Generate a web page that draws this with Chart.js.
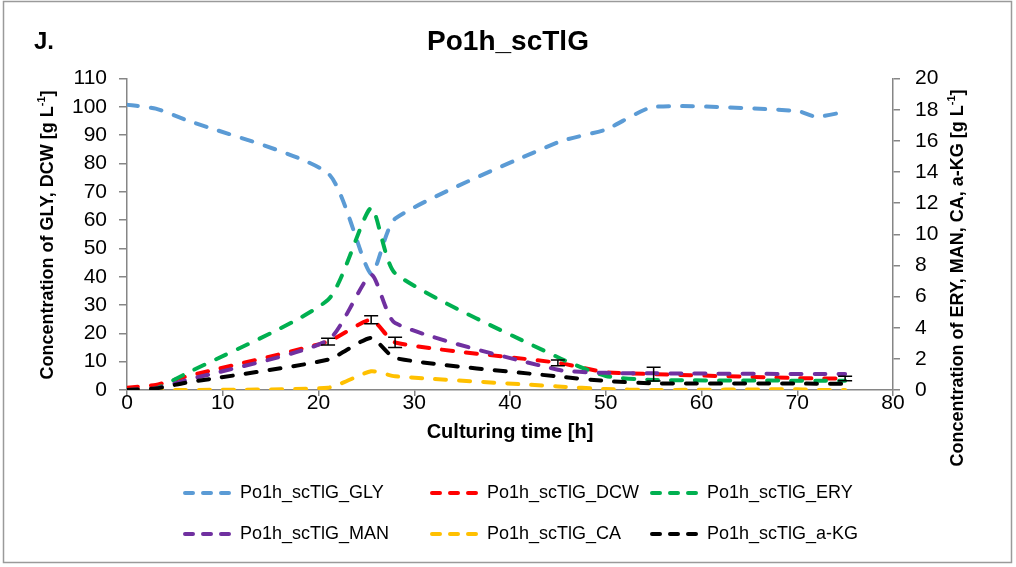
<!DOCTYPE html>
<html>
<head>
<meta charset="utf-8">
<title>Po1h_scTlG</title>
<script src="https://cdn.jsdelivr.net/npm/chart.js@4.4.1/dist/chart.umd.min.js"></script>
<style>
  body { margin: 0; background: #fff; }
  #wrap { position: relative; width: 1016px; height: 567px; }
</style>
</head>
<body>
<div id="wrap"><canvas id="chart-po1h"></canvas></div>
<script>
// sampling times [h]
var hours  = [0, 3, 6, 21, 25.5, 28, 45, 50, 55, 70, 72, 75];

// left axis: glycerol and dry cell weight [g/L]
var gly    = [100.8, 99.4, 95.6, 76.5, 41, 60.5, 87.5, 92, 100, 98.6, 96.5, 98.3];
var dcw    = [0.8, 1.8, 4.6, 17.1, 24.8, 16.8, 9.6, 6.3, 5.6, 4.2, 4.1, 4.1];
var dcwErr = [null, null, null, 1.2, 1.4, 1.8, 1.0, null, 2.4, null, null, 0.8];

// right axis: erythritol, mannitol, citric acid, a-ketoglutarate [g/L]
var ery    = [0, 0.1, 1.0, 5.8, 11.7, 7.5, 2.1, 0.9, 0.65, 0.6, 0.6, 0.6];
var man    = [0, 0.1, 0.6, 3.2, 7.4, 4.3, 1.3, 1.1, 1.07, 1.03, 1.03, 1.03];
var ca     = [0, 0, 0, 0.15, 1.2, 0.88, 0.23, 0.06, 0, 0.05, 0, 0];
var akg    = [0, 0.1, 0.45, 1.95, 3.35, 2.05, 0.87, 0.58, 0.43, 0.42, 0.4, 0.4];

var names  = ["Po1h_scTlG_GLY", "Po1h_scTlG_DCW", "Po1h_scTlG_ERY",
              "Po1h_scTlG_MAN", "Po1h_scTlG_CA", "Po1h_scTlG_a-KG"];
var colors = ["#5B9BD5", "#FF0000", "#00B050", "#7030A0", "#FFC000", "#000000"];

var FONT = '"Liberation Sans", Arial, sans-serif';

function points(vals) {
	return vals.map(function(v, i) { return {x: hours[i], y: v}; });
}

function series(i, vals, axis) {
	return {
		label: names[i],
		data: points(vals),
		yAxisID: axis,
		borderColor: colors[i],
		backgroundColor: colors[i],
		borderWidth: 4,
		borderDash: [11, 13],
		borderCapStyle: 'round',
		pointRadius: 0,
		tension: 0.2,
		fill: false,
		order: 6 - i			// later series drawn on top
	};
}

// axis title with a superscript unit, written bottom to top
function unitTitle(ctx, text, x, y) {
	var big = 'bold 18px ' + FONT, small = 'bold 11px ' + FONT;
	ctx.save();
	ctx.translate(x, y);
	ctx.rotate(-Math.PI / 2);
	ctx.textAlign = 'left';
	ctx.textBaseline = 'middle';
	ctx.font = big;
	var w1 = ctx.measureText(text + ' [g L').width;
	var w3 = ctx.measureText(']').width;
	ctx.font = small;
	var w2 = ctx.measureText('-1').width;
	var x0 = -(w1 + w2 + w3) / 2;
	ctx.font = big;
	ctx.fillText(text + ' [g L', x0, 0);
	ctx.font = small;
	ctx.fillText('-1', x0 + w1, -6);
	ctx.font = big;
	ctx.fillText(']', x0 + w1 + w2, 0);
	ctx.restore();
}

var errorBars = {
	id: 'errorBars',
	afterDatasetsDraw: function(chart) {
		var ctx = chart.ctx;
		var meta = chart.getDatasetMeta(1);
		var ys = chart.scales[meta.yAxisID], xs = chart.scales.x;
		ctx.save();
		ctx.strokeStyle = '#000';
		ctx.lineWidth = 1.5;
		dcwErr.forEach(function(e, i) {
			if (e == null) return;
			var px = xs.getPixelForValue(hours[i]);
			var top = ys.getPixelForValue(dcw[i] + e);
			var bot = ys.getPixelForValue(dcw[i] - e);
			ctx.beginPath();
			ctx.moveTo(px, top); ctx.lineTo(px, bot);
			ctx.moveTo(px - 7, top); ctx.lineTo(px + 7, top);
			ctx.moveTo(px - 7, bot); ctx.lineTo(px + 7, bot);
			ctx.stroke();
		});
		ctx.restore();
	}
};

var extras = {
	id: 'extras',
	afterDraw: function(chart) {
		var ctx = chart.ctx;
		ctx.save();
		ctx.strokeStyle = '#9a9a9a';
		ctx.lineWidth = 1.5;
		ctx.strokeRect(3.5, 1.5, 1008, 561);

		ctx.fillStyle = '#000';
		ctx.font = 'bold 24px ' + FONT;
		ctx.textAlign = 'left';
		ctx.textBaseline = 'middle';
		ctx.fillText('J.', 34, 42);

		unitTitle(ctx, 'Concentration of GLY, DCW', 48, 235);
		unitTitle(ctx, 'Concentration of ERY, MAN, CA, a-KG', 958, 278);

		// legend, two rows of three
		var cols = [183, 430, 650], rows = [493, 534];
		chart.data.datasets.forEach(function(ds, i) {
			var x0 = cols[i % 3], y0 = rows[Math.floor(i / 3)];
			ctx.strokeStyle = ds.borderColor;
			ctx.lineWidth = 4;
			ctx.lineCap = 'round';
			ctx.setLineDash([8, 10]);
			ctx.beginPath();
			ctx.moveTo(x0 + 2, y0); ctx.lineTo(x0 + 46, y0);
			ctx.stroke();
			ctx.setLineDash([]);
			ctx.fillStyle = '#000';
			ctx.font = '18px ' + FONT;
			ctx.fillText(ds.label, x0 + 57, y0);
		});
		ctx.restore();
	}
};

var axisGrey = '#868686';

var ctxPo1h = document.getElementById("chart-po1h").getContext("2d");
var chartPo1h = new Chart(ctxPo1h, {
	type: "line",
	data: {
		datasets: [
			series(0, gly, 'y'),
			series(1, dcw, 'y'),
			series(2, ery, 'y2'),
			series(3, man, 'y2'),
			series(4, ca, 'y2'),
			series(5, akg, 'y2')
		]
	},
	options: {
		responsive: true,
		maintainAspectRatio: false,
		animation: false,
		layout: { padding: 0 },
		plugins: {
			legend: { display: false },
			tooltip: { enabled: false },
			title: {
				display: true,
				text: 'Po1h_scTlG',
				color: '#000',
				font: { family: FONT, size: 28, weight: 'bold', lineHeight: 1.2 },
				padding: { top: 25, bottom: 20 }
			}
		},
		scales: {
			x: {
				type: 'linear',
				min: 0, max: 80,
				ticks: { stepSize: 10, autoSkip: false, color: '#000', padding: -3,
					font: { family: FONT, size: 21, lineHeight: 1 } },
				grid: { drawOnChartArea: false, tickLength: 6, color: axisGrey, lineWidth: 1.5 },
				border: { color: axisGrey, width: 1.5 },
				title: {
					display: true,
					text: 'Culturing time [h]',
					color: '#000',
					font: { family: FONT, size: 20, weight: 'bold', lineHeight: 1.2 },
					padding: { top: 0, bottom: 123 }
				},
				afterFit: function(s) { s.height = 177; }
			},
			y: {
				position: 'left',
				min: 0, max: 110,
				ticks: { stepSize: 10, autoSkip: false, color: '#000', padding: 12,
					font: { family: FONT, size: 21 } },
				grid: { drawOnChartArea: false, tickLength: 8, color: axisGrey, lineWidth: 1.5 },
				border: { color: axisGrey, width: 1.5 },
				afterFit: function(s) { s.width = 127; }
			},
			y2: {
				position: 'right',
				min: 0, max: 20,
				ticks: { stepSize: 2, autoSkip: false, color: '#000', padding: 15,
					font: { family: FONT, size: 21 } },
				grid: { drawOnChartArea: false, tickLength: 7, color: axisGrey, lineWidth: 1.5 },
				border: { color: axisGrey, width: 1.5 },
				afterFit: function(s) { s.width = 123; }
			}
		}
	},
	plugins: [errorBars, extras]
});
</script>
</body>
</html>
